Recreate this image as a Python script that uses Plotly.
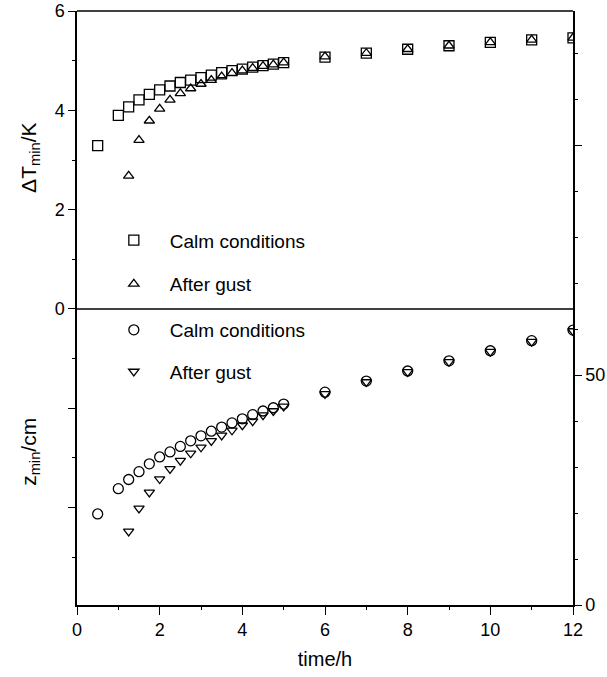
import plotly.graph_objects as go

# ---- data ----
t_calm = [0.5, 1.0, 1.25, 1.5, 1.75, 2.0, 2.25, 2.5, 2.75, 3.0, 3.25, 3.5, 3.75,
          4.0, 4.25, 4.5, 4.75, 5.0, 6, 7, 8, 9, 10, 11, 12]
t_gust = [1.25, 1.5, 1.75, 2.0, 2.25, 2.5, 2.75, 3.0, 3.25, 3.5, 3.75,
          4.0, 4.25, 4.5, 4.75, 5.0, 6, 7, 8, 9, 10, 11, 12]

dT_calm = [3.29, 3.90, 4.07, 4.21, 4.32, 4.41, 4.49, 4.56, 4.61, 4.66, 4.71, 4.76, 4.80,
           4.83, 4.87, 4.90, 4.93, 4.96, 5.07, 5.15, 5.23, 5.30, 5.37, 5.42, 5.46]
dT_gust = [2.68, 3.40, 3.79, 4.03, 4.21, 4.34, 4.44, 4.53, 4.61, 4.68, 4.75,
           4.80, 4.85, 4.89, 4.92, 4.96, 5.08, 5.15, 5.23, 5.30, 5.37, 5.42, 5.46]

z_calm = [19.8, 25.3, 27.3, 29.0, 30.7, 32.2, 33.3, 34.5, 35.7, 36.8, 37.8, 38.7, 39.6,
          40.5, 41.4, 42.2, 42.9, 43.7, 46.3, 48.7, 50.9, 53.1, 55.3, 57.5, 59.8]
z_gust = [16.0, 21.0, 24.5, 27.4, 29.6, 31.4, 33.0, 34.3, 35.7, 36.9, 38.0,
          39.1, 40.0, 41.3, 42.2, 43.2, 45.9, 48.5, 50.7, 52.9, 55.1, 57.3, 59.6]

x_ticks = [0, 2, 4, 6, 8, 10, 12]
left_ticks = [0, 2, 4, 6]
left_unlabeled_ticks = [-6, -4, -2]
right_ticks = [0, 50]
right_unlabeled_ticks = [100]

DT_RANGE = [-5.96, 6]
Z_RANGE = [0, 129.2]

FONT = "Liberation Sans, Arial, Helvetica, sans-serif"

fig = go.Figure()

def mk(sym, size):
    return dict(symbol=sym, size=size, color="black", line=dict(color="black", width=1.3))

fig.add_trace(go.Scatter(x=t_calm, y=dT_calm, mode="markers", name="Calm conditions",
                         marker=mk("square-open", 10), yaxis="y", legend="legend",
                         legendgroup="a"))
fig.add_trace(go.Scatter(x=t_gust, y=dT_gust, mode="markers", name="After gust",
                         marker=mk("triangle-up-open", 9), yaxis="y", legend="legend",
                         legendgroup="b"))
fig.add_trace(go.Scatter(x=t_calm, y=z_calm, mode="markers", name="Calm conditions",
                         marker=mk("circle-open", 10), yaxis="y2", legend="legend2",
                         legendgroup="c"))
fig.add_trace(go.Scatter(x=t_gust, y=z_gust, mode="markers", name="After gust",
                         marker=mk("triangle-down-open", 9), yaxis="y2", legend="legend2",
                         legendgroup="d"))

axis_common = dict(showgrid=False, zeroline=False, showline=True, linecolor="black",
                   linewidth=1.5, ticks="outside", ticklen=7, tickwidth=1.3,
                   tickcolor="black", tickfont=dict(family=FONT, size=18, color="black"))

fig.update_layout(
    width=607, height=677,
    margin=dict(l=77, r=34, t=11, b=72, autoexpand=False),
    paper_bgcolor="white", plot_bgcolor="white",
    font=dict(family=FONT, color="black"),
    xaxis=dict(range=[0, 12], tickvals=x_ticks, ticklen=8,
               minor=dict(dtick=1, ticks="outside", ticklen=3, tickcolor="black"),
               title=dict(text="time/h", font=dict(family=FONT, size=20), standoff=13),
               **{k: v for k, v in axis_common.items() if k != "ticklen"}),
    yaxis=dict(range=DT_RANGE, tickvals=left_ticks,
               minor=dict(dtick=1, ticks="outside", ticklen=3, tickcolor="black"),
               **axis_common),
    yaxis3=dict(range=DT_RANGE, tickvals=left_unlabeled_ticks, showticklabels=False,
                overlaying="y", side="left", **axis_common),
    yaxis2=dict(range=Z_RANGE, tickvals=right_ticks,
                overlaying="y", side="right",
                minor=dict(dtick=10, ticks="outside", ticklen=3, tickcolor="black"),
                **axis_common),
    yaxis4=dict(range=Z_RANGE, tickvals=right_unlabeled_ticks, showticklabels=False,
                overlaying="y", side="right", **axis_common),
    legend=dict(x=0.042, y=0.646, xanchor="left", yanchor="top",
                font=dict(family=FONT, size=19), bgcolor="rgba(0,0,0,0)",
                tracegroupgap=16, itemwidth=62),
    legend2=dict(x=0.042, y=0.495, xanchor="left", yanchor="top",
                 font=dict(family=FONT, size=19), bgcolor="rgba(0,0,0,0)",
                 tracegroupgap=14, itemwidth=62),
    shapes=[
        dict(type="line", xref="paper", yref="paper", x0=0, x1=1, y0=1, y1=1,
             line=dict(color="black", width=1.5)),
        dict(type="line", xref="paper", yref="y", x0=0, x1=1, y0=0, y1=0,
             line=dict(color="black", width=1.5)),
    ],
    annotations=[
        dict(text="ΔT<sub>min</sub>/K", xref="paper", yref="paper", x=-0.095, y=0.7525,
             textangle=-90, showarrow=False, xanchor="center", yanchor="middle",
             font=dict(family=FONT, size=21)),
        dict(text="z<sub>min</sub>/cm", xref="paper", yref="paper", x=-0.095, y=0.2576,
             textangle=-90, showarrow=False, xanchor="center", yanchor="middle",
             font=dict(family=FONT, size=21)),
    ],
)

# dummy invisible traces are not needed; the extra axes only carry unlabeled major ticks
fig.add_trace(go.Scatter(x=[], y=[], yaxis="y3", showlegend=False, hoverinfo="skip"))
fig.add_trace(go.Scatter(x=[], y=[], yaxis="y4", showlegend=False, hoverinfo="skip"))

fig.write_html("out.html")
